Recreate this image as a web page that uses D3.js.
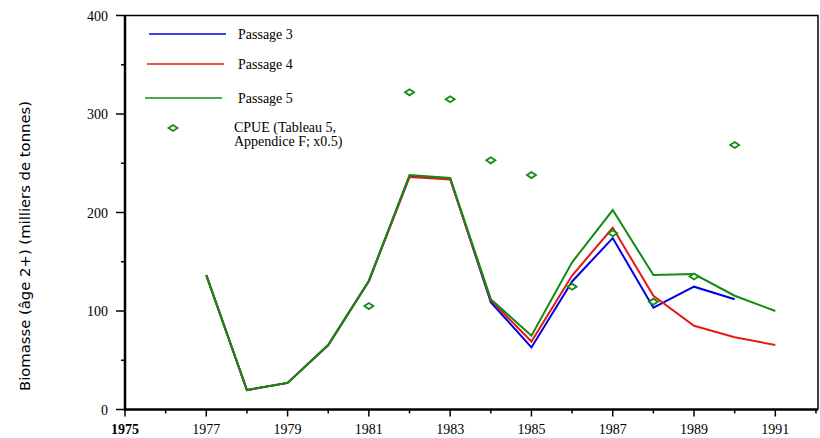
<!DOCTYPE html>
<html><head><meta charset="utf-8">
<script src="https://cdn.jsdelivr.net/npm/d3@7"></script>
<style>body{margin:0;background:#fff}svg{display:block}</style>
</head><body>
<script>
const years = [1977,1978,1979,1980,1981,1982,1983,1984,1985,1986,1987,1988,1989,1990,1991];
const passage3 = [136.5,19.8,27,65.5,130.5,237,234.5,109,63,130,174,103.4,124.7,112,null];
const passage4 = [136.5,19.8,27,65.5,130.5,236,233.5,111,69,136,184.5,115.5,85,73.3,65.5];
const passage5 = [136.5,19.8,27,65.5,130.5,238,235,112,75,149.4,202.5,136.5,137.5,115.5,100];
const cpueYears = [1981,1982,1983,1984,1985,1986,1987,1988,1989,1990];
const cpue = [105,322,315,253,238,124.7,179,109.5,135,268.5];
const yTicks = [0,100,200,300,400];
const xLabelYears = [1975,1977,1979,1981,1983,1985,1987,1989,1991];

const W=820,H=438;
const svg=d3.select("body").append("svg").attr("width",W).attr("height",H);
const x=d3.scaleLinear().domain([1975,1992.05]).range([125,818]);
const y=d3.scaleLinear().domain([0,400]).range([409.5,15.5]);
const serif="'Liberation Serif','Times New Roman',serif";

// frame top/right
svg.append("path").attr("d",`M${x(1975)},${y(400)}H${x(1992.05)}V${y(0)}`)
  .attr("fill","none").attr("stroke","#000").attr("stroke-width",1.5);

// y axis
const gy=svg.append("g");
gy.append("line").attr("x1",125).attr("x2",125).attr("y1",y(400)).attr("y2",y(0)+1).attr("stroke","#000").attr("stroke-width",2.5);
d3.range(0,401,50).forEach(v=>{
  const major=v%100===0;
  gy.append("line").attr("x1",major?116:121).attr("x2",125).attr("y1",y(v)).attr("y2",y(v)).attr("stroke","#000").attr("stroke-width",1.5);
});
yTicks.forEach(v=>{
  gy.append("text").attr("x",108).attr("y",y(v)+5).attr("text-anchor","end")
    .attr("font-family",serif).attr("font-size",14).text(v);
});
// x axis
const gx=svg.append("g");
gx.append("line").attr("x1",124).attr("x2",818).attr("y1",y(0)).attr("y2",y(0)).attr("stroke","#000").attr("stroke-width",2.5);
d3.range(1975,1993).forEach(yr=>{
  const major=(yr-1975)%2===0;
  gx.append("line").attr("x1",x(yr)).attr("x2",x(yr)).attr("y1",y(0)).attr("y2",y(0)+(major?7:4)).attr("stroke","#000").attr("stroke-width",1.5);
});
xLabelYears.forEach(yr=>{
  gx.append("text").attr("x",x(yr)).attr("y",434).attr("text-anchor","middle")
    .attr("font-family",serif).attr("font-size",14)
    .attr("font-weight",yr===1975?"bold":"normal").text(yr);
});

// y label
svg.append("text").attr("transform","translate(30,246) rotate(-90)")
  .attr("text-anchor","middle").attr("font-family","'DejaVu Sans Condensed','Liberation Sans Narrow',sans-serif")
  .attr("font-stretch","condensed")
  .attr("font-size",14.5).attr("textLength",290).attr("lengthAdjust","spacingAndGlyphs")
  .text("Biomasse (âge 2+) (milliers  de tonnes)");

// lines
const line=d3.line().defined(d=>d[1]!=null).x(d=>x(d[0])).y(d=>y(d[1]));
const series=[{v:passage3,c:"#0000e6"},{v:passage4,c:"#e61919"},{v:passage5,c:"#138a13"}];
series.forEach(s=>{
  svg.append("path").datum(years.map((yr,i)=>[yr,s.v[i]])).attr("d",line)
    .attr("fill","none").attr("stroke",s.c).attr("stroke-width",2).attr("stroke-linejoin","miter");
});

// cpue diamonds
const diamond=(cx,cy)=>`M${cx-4.5},${cy}L${cx},${cy-3}L${cx+4.5},${cy}L${cx},${cy+3}Z`;
svg.append("g").selectAll("path").data(cpueYears.map((yr,i)=>[yr,cpue[i]])).join("path")
  .attr("d",d=>diamond(x(d[0]),y(d[1]))).attr("fill","#fff").attr("stroke","#138a13").attr("stroke-width",1.8);

// legend
const leg=[{t:"Passage 3",c:"#0000e6",x1:149,x2:226,yy:34},{t:"Passage 4",c:"#e61919",x1:147,x2:224,yy:64},{t:"Passage 5",c:"#138a13",x1:145,x2:222,yy:98}];
leg.forEach(l=>{
  svg.append("line").attr("x1",l.x1).attr("x2",l.x2).attr("y1",l.yy).attr("y2",l.yy).attr("stroke",l.c).attr("stroke-width",1.5);
  svg.append("text").attr("x",238).attr("y",l.yy+5).attr("font-family",serif).attr("font-size",14).text(l.t);
});
svg.append("path").attr("d",diamond(173,128)).attr("fill","#fff").attr("stroke","#138a13").attr("stroke-width",1.8);
svg.append("text").attr("x",234).attr("y",132).attr("font-family",serif).attr("font-size",14).text("CPUE (Tableau 5,");
svg.append("text").attr("x",234).attr("y",146).attr("font-family",serif).attr("font-size",14).text("Appendice F; x0.5)");
</script>
</body></html>
